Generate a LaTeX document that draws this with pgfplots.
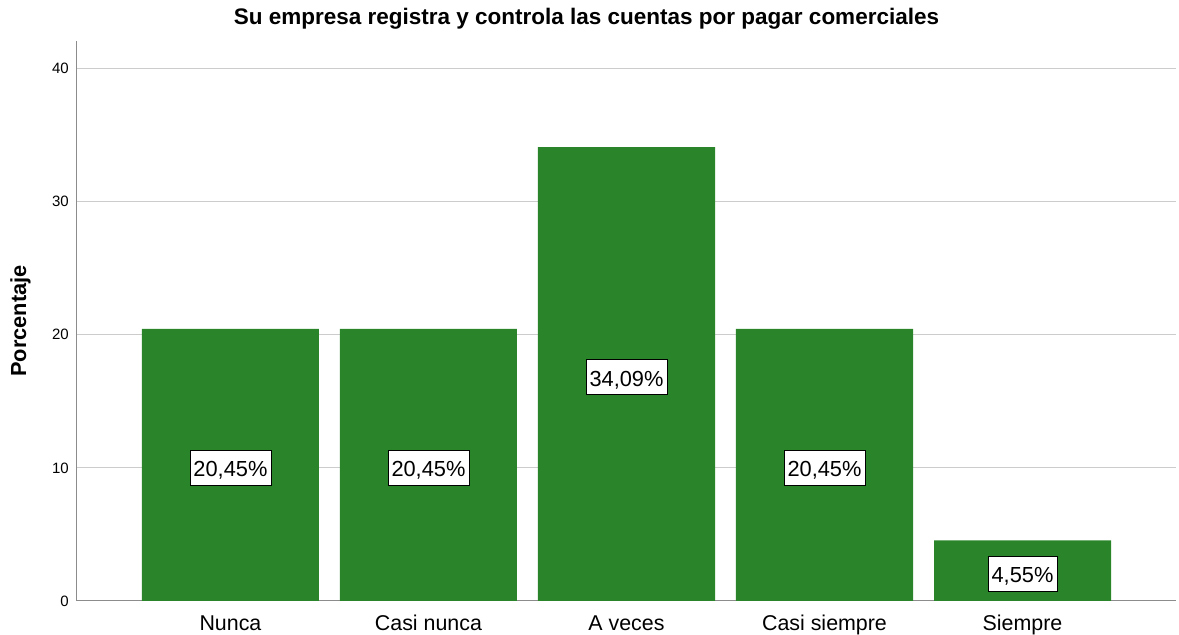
\documentclass[border=0pt]{standalone}
\usepackage{fontspec}
\setmainfont{Liberation Sans}
\usepackage{pgfplots}
\pgfplotsset{compat=1.18}
\definecolor{bargreen}{RGB}{42,133,42}
\begin{document}
\begin{tikzpicture}
\begin{axis}[
  scale only axis, width=1099pt, height=560pt,
  xmin=-0.775, xmax=4.775, ymin=0, ymax=42.07,
  axis x line=bottom, axis y line=left,
  axis line style={-, draw=black!45, line width=1pt},
  ytick={0,10,20,30,40},
  xtick={0,1,2,3,4},
  xticklabels={Nunca, Casi nunca, A veces, Casi siempre, Siempre},
  major tick length=0pt,
  ymajorgrids, grid style={draw=black!20, line width=1pt},
  /pgf/number format/assume math mode=true,
  yticklabel style={font=\fontsize{15}{17}\selectfont, inner sep=0pt, xshift=-8pt},
  xticklabel style={font=\fontsize{21.4}{24}\selectfont, anchor=base, inner sep=0pt, yshift=-30pt},
  title={Su empresa registra y controla las cuentas por pagar comerciales},
  title style={font=\bfseries\fontsize{22.5}{26}\selectfont, at={(0.4636,1)}, anchor=base, yshift=10pt, inner sep=0pt},
  ylabel={Porcentaje},
  ylabel style={font=\bfseries\fontsize{21.8}{25}\selectfont, at={(axis description cs:-0.0515,0.5)}, anchor=center, inner sep=0pt},
  clip=false,
]
\addplot[ybar, bar width=0.894, bar shift=0pt, fill=bargreen, draw=none]
  coordinates {(0,20.45) (1,20.45) (2,34.09) (3,20.45) (4,4.55)};
\addplot[draw=none, mark=none, nodes near coords, point meta=explicit symbolic,
  every node near coord/.style={anchor=center, yshift=-3pt, draw=black, line width=0.8pt, fill=white,
    font=\fontsize{21.8}{24}\selectfont, inner xsep=3.5pt, inner ysep=1pt, text height=25.7pt, text depth=7.7pt}]
  coordinates {(0,10.225)[20,45\%] (1,10.225)[20,45\%] (2,17.045)[34,09\%] (3,10.225)[20,45\%] (4,2.275)[4,55\%]};
\end{axis}
\pgfresetboundingbox
\useasboundingbox (-77pt,-34pt) rectangle (1102pt,601pt);
\end{tikzpicture}
\end{document}
